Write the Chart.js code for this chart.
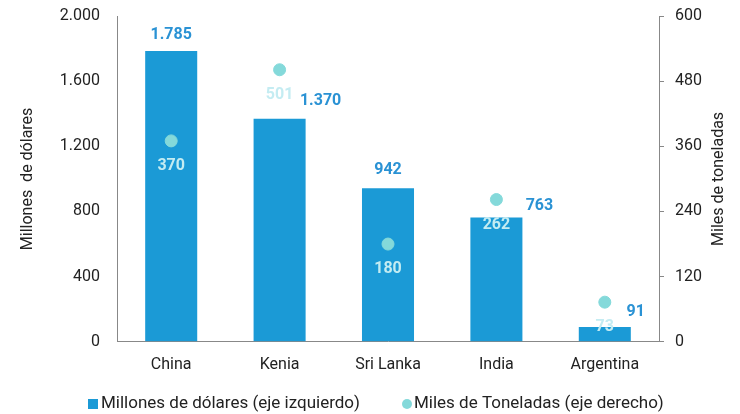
<!DOCTYPE html>
<html>
<head>
<meta charset="utf-8">
<script src="https://cdn.jsdelivr.net/npm/chart.js@4"></script>
<style>
  html, body { margin: 0; padding: 0; background: #fff; }
  #wrap { width: 740px; height: 414px; }
</style>
</head>
<body>
<div id="wrap"><canvas id="teaChart" width="740" height="414"></canvas></div>
<script>
// Data
const countries = ['China', 'Kenia', 'Sri Lanka', 'India', 'Argentina'];
const millonesUSD = [1785, 1370, 942, 763, 91];
const milesTon = [370, 501, 180, 262, 73];
const leftTicks = [0, 400, 800, 1200, 1600, 2000];
const rightTicks = [0, 120, 240, 360, 480, 600];

// Label placement (pixels, relative to the mark)
const barLabelShift = [[0, 16], [41, 18], [0, 18], [43, 12], [31, 15]];
const pointLabelDrop = 25;

const BAR = '#1b9ad6';
const DOT = '#84d9da';
const TXT = '#222';

const fmt = v => String(v).replace(/\B(?=(\d{3})+(?!\d))/g, '.');

// value labels, rotated axis titles and the legend row
const extras = {
  id: 'extras',
  afterDatasetsDraw(chart) {
    const ctx = chart.ctx;
    ctx.save();
    ctx.textAlign = 'center';
    ctx.textBaseline = 'middle';

    ctx.font = 'bold 16px Roboto';
    ctx.fillStyle = '#2a92d4';
    chart.getDatasetMeta(0).data.forEach((el, i) => {
      const [dx, dy] = barLabelShift[i];
      ctx.fillText(fmt(millonesUSD[i]), el.x + dx, el.y - dy);
    });

    ctx.font = 'bold 16px Roboto';
    ctx.fillStyle = '#c4ecf2';
    chart.getDatasetMeta(1).data.forEach((el, i) => {
      ctx.fillText(fmt(milesTon[i]), el.x, el.y + pointLabelDrop);
    });

    // axis titles, both reading bottom to top
    ctx.font = '16px Roboto';
    ctx.fillStyle = TXT;
    const midY = (chart.chartArea.top + chart.chartArea.bottom) / 2;
    [[28, 'Millones  de dólares'], [719, 'Miles de toneladas']].forEach(([x, t]) => {
      ctx.save();
      ctx.translate(x, midY);
      ctx.rotate(-Math.PI / 2);
      ctx.fillText(t, 0, 0);
      ctx.restore();
    });

    // legend
    const ds = chart.data.datasets;
    const ly = 404;
    ctx.textAlign = 'left';
    ctx.font = '17px Roboto';
    ctx.fillStyle = BAR;
    ctx.fillRect(88, ly - 5, 10, 10);
    ctx.fillStyle = DOT;
    ctx.beginPath();
    ctx.arc(407, ly, 5, 0, Math.PI * 2);
    ctx.fill();
    ctx.fillStyle = TXT;
    ctx.fillText(ds[0].label, 101, ly);
    ctx.fillText(ds[1].label, 414, ly);
    ctx.restore();
  }
};

const fixY = width => s => { s.width = width; s.paddingTop = 16; s.paddingBottom = 0; };

new Chart(document.getElementById('teaChart').getContext('2d'), {
  data: {
    labels: countries,
    datasets: [
      {
        type: 'bar',
        label: 'Millones de dólares (eje izquierdo)',
        data: millonesUSD,
        backgroundColor: BAR,
        yAxisID: 'y',
        barPercentage: 0.96,
        categoryPercentage: 0.5,
        order: 2
      },
      {
        type: 'line',
        label: 'Miles de Toneladas (eje derecho)',
        data: milesTon,
        showLine: false,
        backgroundColor: DOT,
        borderColor: DOT,
        pointRadius: 6,
        pointHoverRadius: 6,
        yAxisID: 'y1',
        order: 1
      }
    ]
  },
  plugins: [extras],
  options: {
    responsive: false,
    animation: false,
    layout: { padding: { top: 0, right: 0, left: 0, bottom: 33 } },
    plugins: {
      tooltip: { enabled: false },
      legend: { display: false }
    },
    scales: {
      x: {
        grid: { display: false },
        border: { display: true, color: '#888' },
        ticks: { color: TXT, padding: 6, font: { family: 'Roboto', size: 16 } }
      },
      y: {
        position: 'left',
        min: 0,
        max: 2000,
        afterBuildTicks: s => { s.ticks = leftTicks.map(v => ({ value: v })); },
        afterFit: fixY(117),
        grid: { drawOnChartArea: false, drawTicks: false },
        border: { display: true, color: '#888' },
        ticks: { color: TXT, padding: 17, callback: v => fmt(v), font: { family: 'Roboto', size: 16 } }
      },
      y1: {
        position: 'right',
        min: 0,
        max: 600,
        afterBuildTicks: s => { s.ticks = rightTicks.map(v => ({ value: v })); },
        afterFit: fixY(81),
        grid: { drawOnChartArea: false, drawTicks: true, tickLength: 5, color: '#888' },
        border: { display: true, color: '#888' },
        ticks: { color: TXT, padding: 11, font: { family: 'Roboto', size: 16 } }
      }
    }
  }
});
</script>
</body>
</html>
